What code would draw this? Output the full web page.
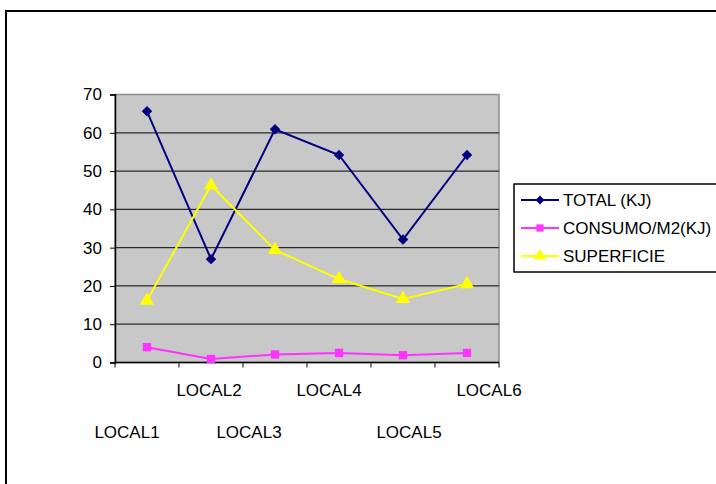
<!DOCTYPE html>
<html>
<head>
<meta charset="utf-8">
<script src="https://cdn.jsdelivr.net/npm/d3@7"></script>
<style>
  body { margin: 0; background: #fff; }
  text { font-family: Arial, "Liberation Sans", sans-serif; fill: #000; }
</style>
</head>
<body>
<div id="chart"></div>
<script>
// data
var categories = ["LOCAL1", "LOCAL2", "LOCAL3", "LOCAL4", "LOCAL5", "LOCAL6"];
var totalKJ = [65.6, 27.0, 60.9, 54.2, 32.1, 54.2];
var consumoM2 = [4.0, 0.9, 2.1, 2.5, 1.9, 2.5];
var superficie = [16.2, 46.3, 29.4, 21.8, 16.6, 20.5];
var yTicks = [0, 10, 20, 30, 40, 50, 60, 70];

var seriesNames = ["TOTAL (KJ)", "CONSUMO/M2(KJ)", "SUPERFICIE"];

// excel staggers the category labels, shift each one a bit
var labelShift = [-20, -2, -26, -10, 6, 22];

var plot = { left: 115, top: 94.5, right: 499, bottom: 362.5 };

var svg = d3
  .select("#chart")
  .append("svg")
  .attr("width", 716)
  .attr("height", 484);

// outer chart border
svg
  .append("rect")
  .attr("x", 6)
  .attr("y", 11)
  .attr("width", 740)
  .attr("height", 500)
  .attr("fill", "#fff")
  .attr("stroke", "#000")
  .attr("stroke-width", 2);

var xScale = d3
  .scaleBand()
  .domain(categories)
  .range([plot.left, plot.right]);

var yScale = d3
  .scaleLinear()
  .domain([0, 70])
  .range([plot.bottom, plot.top]);

// plot area background
svg
  .append("rect")
  .attr("x", plot.left)
  .attr("y", plot.top)
  .attr("width", plot.right - plot.left)
  .attr("height", plot.bottom - plot.top)
  .attr("fill", "#c8c8c8")
  .attr("stroke", "#8c8c8c")
  .attr("stroke-width", 1.5);

// gridlines
svg
  .append("g")
  .selectAll("line")
  .data(yTicks.slice(1, -1))
  .enter()
  .append("line")
  .attr("x1", plot.left)
  .attr("x2", plot.right)
  .attr("y1", function(d) { return yScale(d); })
  .attr("y2", function(d) { return yScale(d); })
  .attr("stroke", "#2a2a2a")
  .attr("stroke-width", 1.2);

// y axis
var yAxis = d3
  .axisLeft(yScale)
  .tickValues(yTicks)
  .tickSize(5)
  .tickPadding(8);

var yG = svg
  .append("g")
  .attr("transform", "translate(" + plot.left + ",0)")
  .call(yAxis);
yG.select(".domain").attr("stroke", "#000").attr("stroke-width", 1.5);
yG.selectAll(".tick line").attr("stroke", "#000");
yG.selectAll(".tick text")
  .style("font-size", "17px")
  .style("font-family", "Arial, 'Liberation Sans', sans-serif");

// x axis line + ticks between categories
svg
  .append("line")
  .attr("x1", plot.left)
  .attr("x2", plot.right)
  .attr("y1", plot.bottom)
  .attr("y2", plot.bottom)
  .attr("stroke", "#000")
  .attr("stroke-width", 1.5);

var boundaries = categories.map(function(c) { return xScale(c); });
boundaries.push(plot.right);

svg
  .append("g")
  .selectAll("line")
  .data(boundaries)
  .enter()
  .append("line")
  .attr("x1", function(d) { return d; })
  .attr("x2", function(d) { return d; })
  .attr("y1", plot.bottom)
  .attr("y2", plot.bottom + 5)
  .attr("stroke", "#000");

// staggered category labels
svg
  .append("g")
  .selectAll("text")
  .data(categories)
  .enter()
  .append("text")
  .text(function(d) { return d; })
  .attr("x", function(d, i) {
    return xScale(d) + xScale.bandwidth() / 2 + labelShift[i];
  })
  .attr("y", function(d, i) { return i % 2 === 1 ? 396 : 438; })
  .attr("text-anchor", "middle")
  .style("font-size", "17px");

// series (diamond = square turned 45deg)
var series = [
  { name: seriesNames[0], values: totalKJ, color: "#000080", symbol: d3.symbolSquare, size: 55, rot: 45 },
  { name: seriesNames[1], values: consumoM2, color: "#ff33ff", symbol: d3.symbolSquare, size: 70, rot: 0 },
  { name: seriesNames[2], values: superficie, color: "#ffff00", symbol: d3.symbolTriangle, size: 90, rot: 0 }
];

var cx = function(i) { return xScale(categories[i]) + xScale.bandwidth() / 2; };

var line = d3
  .line()
  .x(function(d, i) { return cx(i); })
  .y(function(d) { return yScale(d); });

series.forEach(function(s) {
  svg
    .append("path")
    .datum(s.values)
    .attr("d", line)
    .attr("fill", "none")
    .attr("stroke", s.color)
    .attr("stroke-width", 2);

  svg
    .append("g")
    .selectAll("path")
    .data(s.values)
    .enter()
    .append("path")
    .attr("d", d3.symbol().type(s.symbol).size(s.size))
    .attr("transform", function(d, i) {
      return "translate(" + cx(i) + "," + yScale(d) + ") rotate(" + s.rot + ")";
    })
    .attr("fill", s.color);
});

// legend
var legend = svg.append("g");
legend
  .append("rect")
  .attr("x", 514)
  .attr("y", 184)
  .attr("width", 210)
  .attr("height", 88)
  .attr("fill", "#fff")
  .attr("stroke", "#000")
  .attr("stroke-width", 1.5);

series.forEach(function(s, i) {
  var ly = 200 + i * 28;
  legend
    .append("line")
    .attr("x1", 521)
    .attr("x2", 559)
    .attr("y1", ly)
    .attr("y2", ly)
    .attr("stroke", s.color)
    .attr("stroke-width", 2);
  legend
    .append("path")
    .attr("d", d3.symbol().type(s.symbol).size(s.size * 0.75))
    .attr("transform", "translate(540," + ly + ") rotate(" + s.rot + ")")
    .attr("fill", s.color);
  legend
    .append("text")
    .text(s.name)
    .attr("x", 563)
    .attr("y", ly + 6)
    .style("font-size", "17px");
});
</script>
</body>
</html>
